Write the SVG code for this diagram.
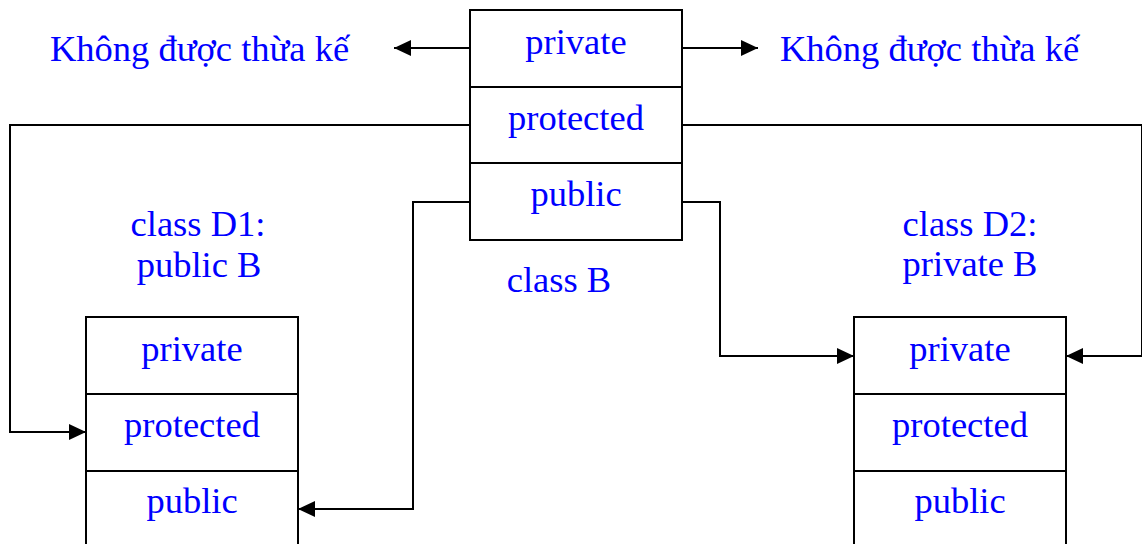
<svg xmlns="http://www.w3.org/2000/svg" width="1142" height="544" viewBox="0 0 1142 544">
  <style>
    .box { fill: #ffffff; stroke: #000000; stroke-width: 2; }
    .div { stroke: #000000; stroke-width: 2; }
    .lbl { font-family: "Liberation Serif", "Times New Roman", serif; font-size: 36.5px; fill: #0000ff; }
    .mid { text-anchor: middle; }
    .wire { fill: none; stroke: #000000; stroke-width: 2; }
  </style>
  <defs>
    <marker id="arrow" viewBox="0 0 17 16" refX="17" refY="8" markerWidth="17" markerHeight="16" markerUnits="userSpaceOnUse" orient="auto">
      <path d="M0,0 L17,8 L0,16 Z" fill="#000000"/>
    </marker>
  </defs>
  <rect width="1142" height="544" fill="#ffffff"/>

  <!-- connectors -->
  <g id="connectors">
    <path class="wire" d="M470,48 L394,48" marker-end="url(#arrow)"/>
    <path class="wire" d="M682,48 L758,48" marker-end="url(#arrow)"/>
    <path class="wire" d="M470,125 L10,125 L10,432 L86,432" marker-end="url(#arrow)"/>
    <path class="wire" d="M682,125 L1142,125 L1142,356 L1066,356" marker-end="url(#arrow)"/>
    <path class="wire" d="M470,202 L413,202 L413,509 L298,509" marker-end="url(#arrow)"/>
    <path class="wire" d="M682,202 L720,202 L720,356 L854,356" marker-end="url(#arrow)"/>
  </g>

  <!-- base class B -->
  <g id="classB">
    <rect class="box" x="470" y="10" width="212" height="230"/>
    <line class="div" x1="470" y1="87" x2="682" y2="87"/>
    <line class="div" x1="470" y1="163" x2="682" y2="163"/>
    <text class="lbl mid" x="576" y="54">private</text>
    <text class="lbl mid" x="576" y="130">protected</text>
    <text class="lbl mid" x="576" y="206">public</text>
    <text class="lbl mid" x="559" y="292">class B</text>
  </g>

  <!-- derived class D1 -->
  <g id="classD1">
    <rect class="box" x="86" y="317" width="212" height="240"/>
    <line class="div" x1="86" y1="394" x2="298" y2="394"/>
    <line class="div" x1="86" y1="471" x2="298" y2="471"/>
    <text class="lbl mid" x="192" y="361">private</text>
    <text class="lbl mid" x="192" y="437">protected</text>
    <text class="lbl mid" x="192" y="513">public</text>
    <text class="lbl mid" x="198" y="236">class D1:</text>
    <text class="lbl mid" x="199" y="277">public B</text>
  </g>

  <!-- derived class D2 -->
  <g id="classD2">
    <rect class="box" x="854" y="317" width="212" height="240"/>
    <line class="div" x1="854" y1="394" x2="1066" y2="394"/>
    <line class="div" x1="854" y1="471" x2="1066" y2="471"/>
    <text class="lbl mid" x="960" y="361">private</text>
    <text class="lbl mid" x="960" y="437">protected</text>
    <text class="lbl mid" x="960" y="513">public</text>
    <text class="lbl mid" x="970" y="236">class D2:</text>
    <text class="lbl mid" x="970" y="276">private B</text>
  </g>

  <!-- non-inherited notes -->
  <g id="noteLeft">
    <text class="lbl" x="50" y="61">Không được thừa kế</text>
  </g>
  <g id="noteRight">
    <text class="lbl" x="780" y="61">Không được thừa kế</text>
  </g>
</svg>
